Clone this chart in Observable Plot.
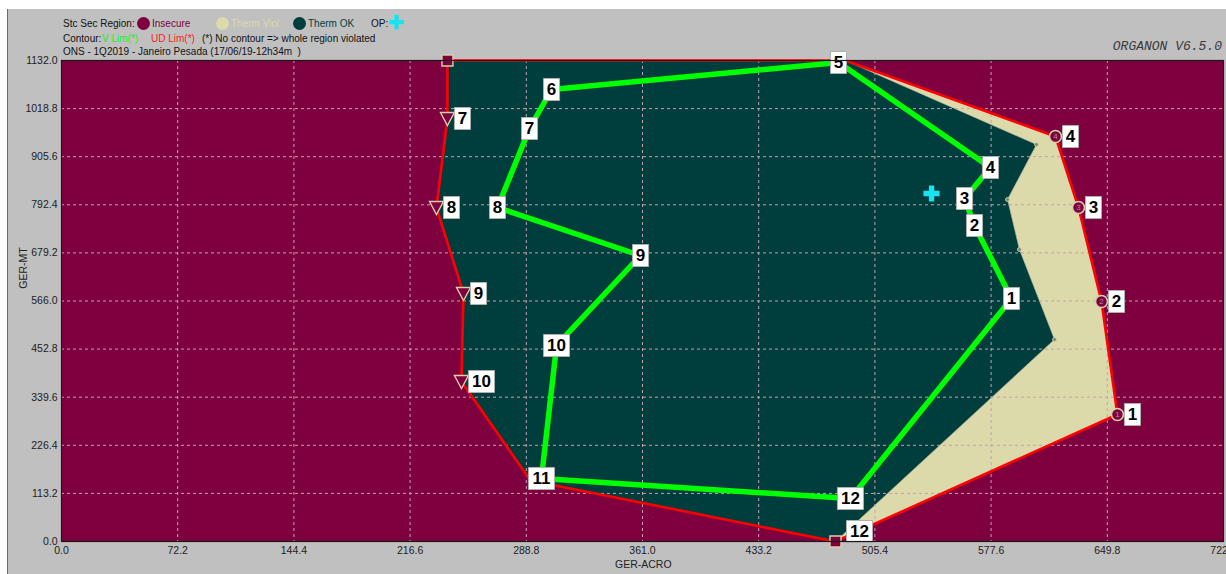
<!DOCTYPE html>
<html>
<head>
<meta charset="utf-8">
<script src="https://cdn.jsdelivr.net/npm/d3@7"></script>
<script src="https://cdn.jsdelivr.net/npm/@observablehq/plot@0.6"></script>
<style>
  html, body { margin: 0; padding: 0; background: #ffffff; }
  #wrap { position: relative; width: 1226px; height: 574px; overflow: hidden; font-family: "Liberation Sans", Arial, sans-serif; }
  #panel { position: absolute; left: 7px; top: 9px; width: 1219px; height: 565px; background: #c0c0c0; border-left: 1px solid #6a6a6a; }
  #chart { position: absolute; left: 0; top: 0; }
  .hdr { position: absolute; font-size: 10px; color: #111; white-space: pre; line-height: 12px; }
  .dotc { position: absolute; width: 13px; height: 13px; border-radius: 50%; }
  .axl { position: absolute; font-size: 10.5px; color: #222; }
  #ver { position: absolute; right: 4px; top: 39px; font-family: "Liberation Mono", "DejaVu Sans Mono", monospace; font-style: italic; font-size: 13px; color: #3a3a3a; }
</style>
</head>
<body>
<div id="wrap">
  <div id="panel"></div>
  <div id="chart"></div>
  <div class="hdr" style="left:63px; top:18px;">Stc Sec Region:</div>
  <div class="dotc" style="left:137px; top:17px; background:#7f003f;"></div>
  <div class="hdr" style="left:152px; top:18px; color:#7f003f;">Insecure</div>
  <div class="dotc" style="left:216px; top:17px; background:#dcd9ab;"></div>
  <div class="hdr" style="left:231px; top:18px; color:#dcd9ab;">Therm Viol</div>
  <div class="dotc" style="left:293px; top:17px; background:#003d3d;"></div>
  <div class="hdr" style="left:308px; top:18px; color:#003d3d;">Therm OK</div>
  <div class="hdr" style="left:371px; top:18px;">OP:</div>
  <div class="hdr" style="left:388px; top:13px; color:#19e3f0; font-size:19px; font-weight:bold; line-height:20px;">✚</div>
  <div class="hdr" style="left:63px; top:33px;">Contour:</div>
  <div class="hdr" style="left:102px; top:33px; color:#22ee22;">V Lim(*)</div>
  <div class="hdr" style="left:151px; top:33px; color:#ff2020;">UD Lim(*)</div>
  <div class="hdr" style="left:202px; top:33px;">(*) No contour =&gt; whole region violated</div>
  <div class="hdr" style="left:63px; top:46px;">ONS - 1Q2019 - Janeiro Pesada (17/06/19-12h34m  )</div>
  <div id="ver">ORGANON V6.5.0</div>
  <div class="axl" style="left:615px; top:558px;">GER-ACRO</div>
  <div class="axl" style="left:1px; top:262px; transform: rotate(-90deg); transform-origin: 50% 50%; width:44px; text-align:center;">GER-MT</div>
</div>
<script>
// ---- Axis ticks ----
const xTicks = [0.0, 72.2, 144.4, 216.6, 288.8, 361.0, 433.2, 505.4, 577.6, 649.8, 722.0];
const yTicks = [0.0, 113.2, 226.4, 339.6, 452.8, 566.0, 679.2, 792.4, 905.6, 1018.8, 1132.0];

// ---- UD Lim contour (red), points 1..12 ----
const udLabel = ["1","2","3","4","5","6","7","8","9","10","11","12"];
const udX = [656.1, 646.2, 631.9, 617.6, 487.1, 239.8, 239.8, 233.0, 249.8, 248.5, 291.4, 480.9];
const udY = [298.9, 564.8, 786.0, 953.1, 1132.0, 1132.0, 995.5, 786.0, 583.7, 376.5, 143.6, 0.0];
const udMarker = ["circle","circle","circle","circle","none","square","tri","tri","tri","tri","none","square"];
const udShown = ["1","2","3","4","7","8","9","10"];

// ---- Thermal limit inner boundary (between Therm OK and Therm Viol) ----
const thermX = [605.8, 587.8, 595.2, 617.0];
const thermY = [934.3, 804.9, 687.2, 475.4];

// ---- V Lim contour (green), points 1..12 ----
const vLabel = ["1","2","3","4","5","6","7","8","9","10","11","12"];
const vX = [590.3, 567.3, 561.1, 577.2, 482.8, 304.5, 290.8, 270.9, 359.8, 307.6, 298.2, 490.2];
const vY = [571.9, 743.7, 807.2, 880.2, 1127.3, 1063.8, 972.0, 786.0, 673.1, 461.3, 148.3, 101.2];

// ---- Operating point ----
const opX = [540.6];
const opY = [819.0];

// ---- colours ----
const C_INSECURE = "#7f003f";
const C_VIOL = "#dcd9ab";
const C_OK = "#003d3d";

const ud = udLabel.map((l, i) => ({label: l, x: udX[i], y: udY[i], m: udMarker[i]}));
const vl = vLabel.map((l, i) => ({label: l, x: vX[i], y: vY[i]}));
const udPoly = ud.map(d => ({x: d.x, y: d.y}));
// Therm OK polygon: UD 5 -> thermal inner boundary -> UD 12 -> 11 -> ... -> 6
const okPoly = [ud[4], ...thermX.map((x, i) => ({x, y: thermY[i]})), ud[11], ud[10], ud[9], ud[8], ud[7], ud[6], ud[5]].map(d => ({x: d.x, y: d.y}));
const vClosed = [...vl, vl[0]];
const udClosed = [...ud, ud[0]];
const op = opX.map((x, i) => ({x, y: opY[i]}));

const rectSym = (w, h) => ({draw(ctx) { ctx.moveTo(-w/2, -h/2); ctx.lineTo(w/2, -h/2); ctx.lineTo(w/2, h/2); ctx.lineTo(-w/2, h/2); ctx.closePath(); }});
const box1 = rectSym(16, 22), box2 = rectSym(26, 22);
const sqSym = rectSym(11, 11);
const triDown = {draw(ctx) { ctx.moveTo(-7, -6); ctx.lineTo(7, -6); ctx.lineTo(0, 7); ctx.closePath(); }};

const redLab = ud.filter(d => udShown.includes(d.label));
const redLab12 = ud.filter(d => d.label === "12");
const fontF = "Liberation Sans, Arial, sans-serif";

const chart = Plot.plot({
  width: 1226, height: 574,
  marginLeft: 61, marginRight: 3, marginTop: 60, marginBottom: 33,
  style: {background: "transparent", fontFamily: fontF, fontSize: "10.5px", color: "#1c1c1c"},
  x: {domain: [0, 722], ticks: xTicks, tickFormat: d => d.toFixed(1), tickSize: 0, tickPadding: 5, label: null},
  y: {domain: [0, 1132], ticks: yTicks, tickFormat: d => d.toFixed(1), tickSize: 0, tickPadding: 4, label: null},
  marks: [
    Plot.frame({fill: C_INSECURE}),
    Plot.line(udPoly, {x: "x", y: "y", fill: C_VIOL, stroke: "none", curve: "linear-closed"}),
    Plot.line(okPoly, {x: "x", y: "y", fill: C_OK, curve: "linear-closed", stroke: "#b9b9a0", strokeWidth: 0.6}),
    Plot.ruleX(xTicks.slice(1, -1), {stroke: "#c7a0b4", strokeDasharray: "3,3", strokeWidth: 1}),
    Plot.ruleY(yTicks.slice(1, -1), {stroke: "#c7a0b4", strokeDasharray: "3,3", strokeWidth: 1}),
    Plot.dot(thermX.map((x, i) => ({x, y: thermY[i]})), {x: "x", y: "y", r: 2, fill: "#7a8a80", stroke: "#dcd9ab", strokeWidth: 0.8}),
    Plot.line(udClosed, {x: "x", y: "y", stroke: "#ff0000", strokeWidth: 2.6}),
    Plot.line(vClosed, {x: "x", y: "y", stroke: "#00ff00", strokeWidth: 5.5, strokeLinejoin: "round"}),
    // red markers
    Plot.dot(ud.filter(d => d.m === "circle"), {x: "x", y: "y", r: 6, fill: C_INSECURE, stroke: "#d9cfa8", strokeWidth: 1.6}),
    Plot.text(ud.filter(d => d.m === "circle"), {x: "x", y: "y", text: "label", fontSize: 8, fill: "#b58aa0"}),
    Plot.dot(ud.filter(d => d.m === "square"), {x: "x", y: "y", symbol: sqSym, fill: C_INSECURE, stroke: "#d9cfa8", strokeWidth: 1.4}),
    Plot.dot(ud.filter(d => d.m === "tri"), {x: "x", y: "y", symbol: triDown, fill: C_INSECURE, stroke: "#d9cfa8", strokeWidth: 1.4}),
    // OP
    Plot.dot(op, {x: "x", y: "y", symbol: "cross", r: 6.8, fill: "#19e3f0"}),
    // green labels
    Plot.dot(vl.filter(d => d.label.length === 1), {x: "x", y: "y", symbol: box1, fill: "white", stroke: "#b0b0b0", strokeWidth: 1}),
    Plot.dot(vl.filter(d => d.label.length === 2), {x: "x", y: "y", symbol: box2, fill: "white", stroke: "#b0b0b0", strokeWidth: 1}),
    Plot.text(vl, {x: "x", y: "y", text: "label", fontSize: 17, fontWeight: "bold", fill: "black", fontFamily: fontF}),
    // red labels (to the right of the markers)
    Plot.dot(redLab.filter(d => d.label.length === 1), {x: "x", y: "y", dx: 15, symbol: box1, fill: "white", stroke: "#b0b0b0", strokeWidth: 1}),
    Plot.text(redLab.filter(d => d.label.length === 1), {x: "x", y: "y", dx: 15, text: "label", fontSize: 17, fontWeight: "bold", fill: "black", fontFamily: fontF}),
    Plot.dot(redLab.filter(d => d.label.length === 2), {x: "x", y: "y", dx: 20, symbol: box2, fill: "white", stroke: "#b0b0b0", strokeWidth: 1}),
    Plot.text(redLab.filter(d => d.label.length === 2), {x: "x", y: "y", dx: 20, text: "label", fontSize: 17, fontWeight: "bold", fill: "black", fontFamily: fontF}),
    Plot.dot(redLab12, {x: "x", y: "y", dx: 24, dy: -10, symbol: box2, fill: "white", stroke: "#b0b0b0", strokeWidth: 1}),
    Plot.text(redLab12, {x: "x", y: "y", dx: 24, dy: -10, text: "label", fontSize: 17, fontWeight: "bold", fill: "black", fontFamily: fontF}),
    Plot.frame({stroke: "#1a1a1a", strokeWidth: 1.2})
  ]
});
document.getElementById("chart").appendChild(chart);
</script>
</body>
</html>
